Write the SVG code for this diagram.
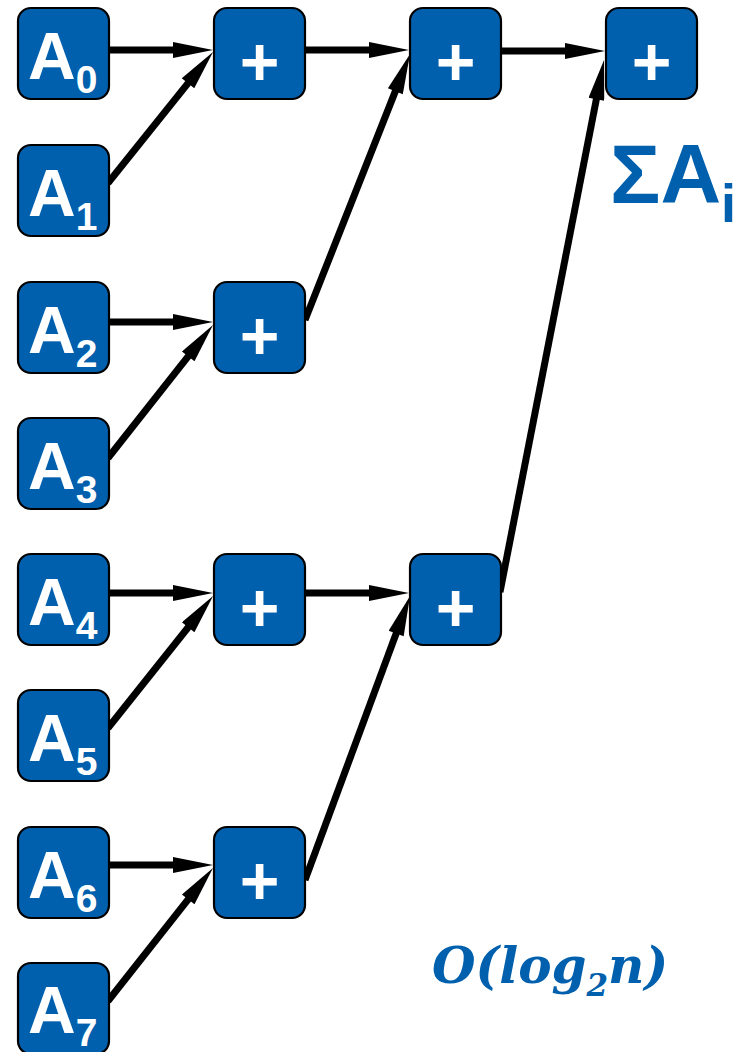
<svg xmlns="http://www.w3.org/2000/svg" width="750" height="1052" viewBox="0 0 750 1052">
  <style>
    .box { fill: #0060ad; stroke: #000; stroke-width: 2.2; }
    .lbl { fill: #fff; font-family: "Liberation Sans", Arial, sans-serif; font-weight: bold; font-size: 66px; }
    .sub { font-size: 39px; }
    .plus { fill: #fff; font-family: "Liberation Sans", Arial, sans-serif; font-weight: bold; font-size: 68px; text-anchor: middle; }
    .edge { stroke: #000; stroke-width: 7; fill: none; marker-end: url(#head); }
    .note { fill: #0060ad; }
  </style>
  <defs>
    <marker id="head" markerUnits="userSpaceOnUse" viewBox="0 0 60 16" markerWidth="60" markerHeight="16" refX="40" refY="8" orient="auto">
      <path d="M20,0 L60,8 L20,16 Z" fill="#000"/>
    </marker>
  </defs>

  <!-- connectors -->
  <g id="connectors">
    <path class="edge" d="M110,50 L193,50"/>
    <path class="edge" d="M108,183 L200.5,67.6"/>
    <path class="edge" d="M305,50 L389,50"/>
    <path class="edge" d="M305,320 L402.7,72.6"/>
    <path class="edge" d="M500,51 L585,51"/>
    <path class="edge" d="M500,592 L600.2,79.6"/>
    <path class="edge" d="M108,322 L193,322"/>
    <path class="edge" d="M108,458 L200.6,340.7"/>
    <path class="edge" d="M108,593 L193,593"/>
    <path class="edge" d="M108,728 L200.6,611.7"/>
    <path class="edge" d="M305,593 L389,593"/>
    <path class="edge" d="M305,880 L403.1,614.8"/>
    <path class="edge" d="M108,865 L193,865"/>
    <path class="edge" d="M108,1001 L200.6,883.7"/>
  </g>

  <!-- inputs -->
  <g id="a0"><rect class="box" x="18" y="8" width="91" height="91" rx="13"/><text class="lbl" x="28" y="79">A<tspan class="sub" dy="14">0</tspan></text></g>
  <g id="a1"><rect class="box" x="18" y="145" width="91" height="91" rx="13"/><text class="lbl" x="28" y="216">A<tspan class="sub" dy="14">1</tspan></text></g>
  <g id="a2"><rect class="box" x="18" y="282" width="91" height="91" rx="13"/><text class="lbl" x="28" y="353">A<tspan class="sub" dy="14">2</tspan></text></g>
  <g id="a3"><rect class="box" x="18" y="418" width="91" height="91" rx="13"/><text class="lbl" x="28" y="489">A<tspan class="sub" dy="14">3</tspan></text></g>
  <g id="a4"><rect class="box" x="18" y="554" width="91" height="91" rx="13"/><text class="lbl" x="28" y="625">A<tspan class="sub" dy="14">4</tspan></text></g>
  <g id="a5"><rect class="box" x="18" y="690" width="91" height="91" rx="13"/><text class="lbl" x="28" y="761">A<tspan class="sub" dy="14">5</tspan></text></g>
  <g id="a6"><rect class="box" x="18" y="827" width="91" height="91" rx="13"/><text class="lbl" x="28" y="898">A<tspan class="sub" dy="14">6</tspan></text></g>
  <g id="a7"><rect class="box" x="18" y="963" width="91" height="91" rx="13"/><text class="lbl" x="28" y="1033">A<tspan class="sub" dy="13">7</tspan></text></g>

  <!-- adders, level 1 -->
  <g id="add1a"><rect class="box" x="214" y="8" width="91" height="91" rx="13"/><text class="plus" x="259.5" y="85">+</text></g>
  <g id="add1b"><rect class="box" x="214" y="282" width="91" height="91" rx="13"/><text class="plus" x="259.5" y="359">+</text></g>
  <g id="add1c"><rect class="box" x="214" y="554" width="91" height="91" rx="13"/><text class="plus" x="259.5" y="631">+</text></g>
  <g id="add1d"><rect class="box" x="214" y="827" width="91" height="91" rx="13"/><text class="plus" x="259.5" y="904">+</text></g>

  <!-- adders, level 2 -->
  <g id="add2a"><rect class="box" x="410" y="8" width="91" height="91" rx="13"/><text class="plus" x="455.5" y="85">+</text></g>
  <g id="add2b"><rect class="box" x="410" y="554" width="91" height="91" rx="13"/><text class="plus" x="455.5" y="631">+</text></g>

  <!-- adder, level 3 -->
  <g id="add3"><rect class="box" x="606" y="8" width="91" height="91" rx="13"/><text class="plus" x="651.5" y="85">+</text></g>

  <!-- annotations -->
  <text class="note" x="610" y="203" font-family="Liberation Sans, Arial, sans-serif" font-weight="bold" font-size="84">ΣA<tspan font-size="54" dy="19">i</tspan></text>
  <text class="note" x="432" y="983" font-family="DejaVu Serif, serif" font-style="italic" font-weight="bold" font-size="50">O(log<tspan font-size="31" dy="13">2</tspan><tspan dy="-13">n)</tspan></text>
</svg>
